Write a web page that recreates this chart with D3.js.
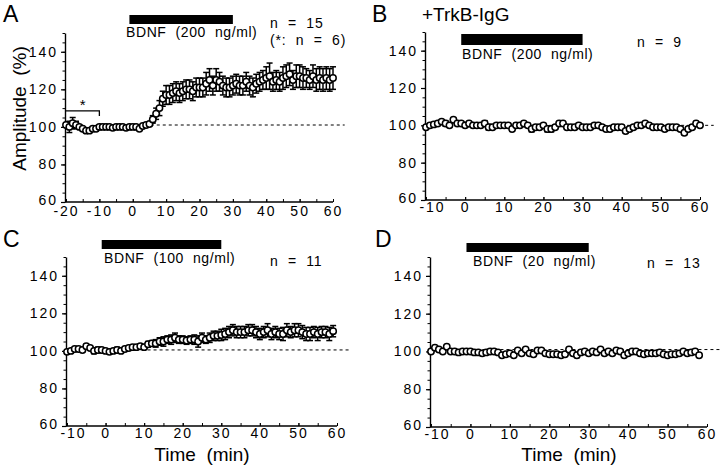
<!DOCTYPE html>
<html>
<head>
<meta charset="utf-8">
<script src="https://cdn.jsdelivr.net/npm/d3@7"></script>
<style>
body { margin: 0; background: #fff; }
svg { display: block; font-family: "Liberation Sans", Arial, sans-serif; }
</style>
</head>
<body>
<script>
// amplitude (% of baseline), one point per minute
var ampA = [101,100,102,101,100,99,98,98,99,99,100,
    100,100,100,99.5,100,100,100,99.5,100,100,100,99,100.5,101,101.5,
    104,107,110,115,117,117,118,119,118,119,120,120,119,121,121,121,123,125,122,125,124,122,121,121,122,
    123,122,122,124,122,121,123,124,125,126,127,124,125,124,126,127,128,125,127,127,126,126,125,127,125,126,125,126,125,126];
var semA = [1,3,3,2,1,1,1,1,1,1,1,
    0.8,0.8,0.8,0.8,0.8,0.8,0.8,0.8,0.8,0.8,0.8,0.8,0.8,1,1,
    2,3,4,4,5,5,5,5,5,5,5,5,5,5,5,5,6,6,5,6,5,5,5,5,5,
    5,5,5,5,5,5,5,5,5,6,7,5,5,5,6,6,6,5,6,6,6,5,5,6,6,6,6,6,6,6];
var ampB = [99,100,100.5,101,102,101,100,103,101,101,100,101,100,100,100,101,99,99,100,100,100,100,98,100,100,101,100,98,99,99,
    100,98,98,99,101,101,99,99,99,100,99,99,99,100,100,99,98,98,99,99,99,97,98,99,100,100,101,100,99,99,
    99,98,99,99,99,98,96,98,99,101,100];
var semB = [1,1,1,1,1,1.5,1,1,1,1,1,1,1,1,1,1.5,1.5,1,1,1,1,1,1,1,1,1,1,1.5,1,1,
    1,1.5,1.5,1,1,1,1,1,1,1,1,1,1,1,1,1,1,1,1,1,1,1,1,1,1,1,1,1,1,1,
    1,1,1,1,1,1,1,1,1,1,1];
var ampC = [99.5,100,101,101,100.5,102.5,101.5,100,100.5,100.5,100,99.5,100,100.5,100,101,101.5,102,102,102.5,102,
    103.5,104,104,105,105,106,106,107,106,106,105.5,106,106,105,107,106,107,108,108,108.5,109,110,111,110,110,110,111,111,110,
    109,110,111,109,110,109,109,111,110,111,111,110,109,109,110,109,110,110,109,110.5];
var semC = [0.8,0.8,1,1,1,1,1,1.5,1.5,1,1,1,1,1.5,1,1,1,1,1,1,1,
    1.5,1.5,2,2,2.5,2,2.5,2.5,2,2,2,2,2.5,3,2.5,2,2.5,2.5,2.5,3,3,3,3,3,3,3,3,3,3,
    3,3,3.5,3,3,3,3.5,3.5,3,3.5,3.5,3.5,3.5,3.5,3,3.5,3,3,3.5,3];
var ampD = [100,102,101,100,102.5,100,100,99.5,100,100,100,99.5,99.5,99,99.5,100,100,99.5,98,98.5,99,98,100.5,99,101,
    99,98.5,100.5,100.5,99,98.5,98.5,98.5,98,98.5,101,99,98,99.5,100,99,100,99.5,101,99,100,99,100.5,100,
    98,99,100,100,99,98.5,99,99,99,99.5,98.5,98,98.5,98.5,99,100,99,99.5,100,98];
var semD = [0.8,0.8,0.8,0.8,0.8,0.8,0.8,0.8,0.8,0.8,0.8,0.8,0.8,0.8,0.8,0.8,0.8,0.8,0.8,0.8,0.8,0.8,0.8,0.8,0.8,
    0.8,0.8,0.8,0.8,0.8,0.8,0.8,0.8,0.8,0.8,1,1,1.2,0.8,0.8,0.8,0.8,0.8,0.8,0.8,0.8,0.8,0.8,0.8,
    0.8,0.8,0.8,0.8,0.8,0.8,0.8,0.8,0.8,0.8,0.8,0.8,0.8,0.8,0.8,0.8,0.8,0.8,0.8,0.8];

var startMin = {A: -20, B: -10, C: -10, D: -10};
var bdnfPeriod = [-1, 30];
var bdnfLabels = {A: "BDNF  (200  ng/ml)", B: "BDNF  (200  ng/ml)", C: "BDNF  (100  ng/ml)", D: "BDNF  (20  ng/ml)"};
var nLabels = {A: "n  =  15", B: "n  =  9", C: "n  =  11", D: "n  =  13"};
var baseline = {A: 101, B: 100, C: 100.5, D: 101};
var yTicks = [60, 80, 100, 120, 140];
var xTicksA = [-20, -10, 0, 10, 20, 30, 40, 50, 60];
var xTicks = [-10, 0, 10, 20, 30, 40, 50, 60];

var svg = d3.select("body")
    .append("svg")
    .attr("width", 720)
    .attr("height", 470);

// layout of the four panels
var panels = [
    {key: "A", amp: ampA, sem: semA, x0: 66, x1: 333, yTop: 33, yBot: 202, xDom: [-20, 60], xt: xTicksA,
     bar: [15, 9], barText: [126, 37], nPos: [270, 28], lab: [3, 22]},
    {key: "B", amp: ampB, sem: semB, x0: 426, x1: 700, yTop: 32, yBot: 200, xDom: [-10, 60], xt: xTicks,
     bar: [34, 11], barText: [462, 59], nPos: [637, 47], lab: [372, 22]},
    {key: "C", amp: ampC, sem: semC, x0: 67, x1: 337, yTop: 257, yBot: 426, xDom: [-10, 60], xt: xTicks,
     bar: [240, 9], barText: [104, 263], nPos: [270, 266], lab: [3, 247]},
    {key: "D", amp: ampD, sem: semD, x0: 431, x1: 707, yTop: 257, yBot: 427, xDom: [-10, 60], xt: xTicks,
     bar: [243, 9], barText: [473, 266], nPos: [647, 268], lab: [375, 247]}
];

var plain = function(d) { return String(d); };

panels.forEach(function(p) {
    var x = d3.scaleLinear().domain(p.xDom).range([p.x0, p.x1]);
    var y = d3.scaleLinear().domain([60, 150]).range([p.yBot, p.yTop]);
    var g = svg.append("g");
    var axisX = p.x0 - 1;

    // minor y ticks
    g.append("g")
        .attr("transform", "translate(" + axisX + ",0)")
        .call(d3.axisLeft(y).tickValues(d3.range(60, 151, 5)).tickSize(2.5).tickFormat(""))
        .call(function(a) { a.select(".domain").remove(); a.selectAll("line").attr("stroke-width", 1); });
    var ya = g.append("g")
        .attr("transform", "translate(" + axisX + ",0)")
        .call(d3.axisLeft(y).tickValues(yTicks).tickSize(4).tickSizeOuter(0).tickPadding(3).tickFormat(plain));
    ya.select(".domain").attr("stroke-width", 1.4);
    ya.selectAll("line").attr("stroke-width", 1.2);
    ya.selectAll("text").style("font-size", "14px").style("letter-spacing", "2px").attr("fill", "#000");
    ya.selectAll(".tick").filter(function(d) { return d === 60; }).select("text").attr("dy", "0.2em");

    // x axis, ticks point inward
    g.append("g")
        .attr("transform", "translate(0," + p.yBot + ")")
        .call(d3.axisBottom(x).tickValues(d3.range(p.xDom[0], p.xDom[1] + 1, 5)).tickSize(-3).tickFormat(""))
        .call(function(a) { a.select(".domain").remove(); });
    var xa = g.append("g")
        .attr("transform", "translate(0," + p.yBot + ")")
        .call(d3.axisBottom(x).tickValues(p.xt).tickSize(-3).tickSizeOuter(0).tickFormat(plain));
    xa.select(".domain").attr("stroke-width", 1.4).attr("d", "M" + axisX + ",0H" + p.x1);
    xa.selectAll("text").attr("y", p.key === "A" ? 4 : 2).style("font-size", "14px").style("letter-spacing", "2px").attr("fill", "#000");
    if (p.key !== "A") {
        xa.selectAll(".tick").filter(function(d) { return d === p.xDom[0]; }).select("text").attr("dx", 6);
    }

    // dashed baseline
    g.append("line")
        .attr("x1", x(0)).attr("x2", x(63.5))
        .attr("y1", y(baseline[p.key])).attr("y2", y(baseline[p.key]))
        .attr("stroke", "#000").attr("stroke-width", 1).attr("stroke-dasharray", "3,3");

    var pts = p.amp.map(function(v, i) { return {t: startMin[p.key] + i, v: v, e: p.sem[i]}; });

    var eb = g.selectAll(".eb").data(pts).enter().append("g").attr("class", "eb")
        .attr("stroke", "#000").attr("stroke-width", 1.5);
    eb.append("line")
        .attr("x1", function(d) { return x(d.t); }).attr("x2", function(d) { return x(d.t); })
        .attr("y1", function(d) { return y(d.v + d.e); }).attr("y2", function(d) { return y(d.v - d.e); });
    eb.append("line")
        .attr("x1", function(d) { return x(d.t) - 3; }).attr("x2", function(d) { return x(d.t) + 3; })
        .attr("y1", function(d) { return y(d.v + d.e); }).attr("y2", function(d) { return y(d.v + d.e); });
    eb.append("line")
        .attr("x1", function(d) { return x(d.t) - 3; }).attr("x2", function(d) { return x(d.t) + 3; })
        .attr("y1", function(d) { return y(d.v - d.e); }).attr("y2", function(d) { return y(d.v - d.e); });

    g.selectAll("circle").data(pts).enter().append("circle")
        .attr("cx", function(d) { return x(d.t); })
        .attr("cy", function(d) { return y(d.v); })
        .attr("r", 3.2)
        .attr("fill", "#fff")
        .attr("stroke", "#000")
        .attr("stroke-width", 1.5);

    // BDNF application bar
    g.append("rect")
        .attr("x", x(bdnfPeriod[0])).attr("width", x(bdnfPeriod[1]) - x(bdnfPeriod[0]))
        .attr("y", p.bar[0]).attr("height", p.bar[1])
        .attr("fill", "#000");
    g.append("text").attr("x", p.barText[0]).attr("y", p.barText[1])
        .style("font-size", "14px").style("letter-spacing", "0.6px").style("white-space", "pre")
        .text(bdnfLabels[p.key]);
    g.append("text").attr("x", p.nPos[0]).attr("y", p.nPos[1])
        .style("font-size", "14px").style("letter-spacing", "0.8px").style("white-space", "pre")
        .text(nLabels[p.key]);
    g.append("text").attr("x", p.lab[0]).attr("y", p.lab[1])
        .style("font-size", "23px")
        .text(p.key);

    if (p.key === "A") {
        g.append("text").attr("x", 270).attr("y", 45)
            .style("font-size", "14px").style("letter-spacing", "0.8px").style("white-space", "pre")
            .text("(*:  n  =  6)");
        g.append("path")
            .attr("d", "M" + x(-20) + "," + y(108.5) + "H" + x(-10) + "V" + (y(108.5) + 5))
            .attr("fill", "none").attr("stroke", "#000").attr("stroke-width", 1.3);
        g.append("text").attr("x", x(-15)).attr("y", y(108.5) - 1)
            .attr("text-anchor", "middle").style("font-size", "15px").text("*");
        g.append("text")
            .attr("transform", "translate(26," + ((p.yTop + p.yBot) / 2 - 9) + ") rotate(-90)")
            .attr("text-anchor", "middle").style("font-size", "19px").style("white-space", "pre")
            .text("Amplitude  (%)");
    }
    if (p.key === "B") {
        g.append("text").attr("x", 422).attr("y", 21)
            .style("font-size", "19px").text("+TrkB-IgG");
    }
    if (p.key === "C" || p.key === "D") {
        g.append("text").attr("x", x(25)).attr("y", 461)
            .attr("text-anchor", "middle").style("font-size", "19px").style("white-space", "pre")
            .text("Time  (min)");
    }
});
</script>
</body>
</html>
